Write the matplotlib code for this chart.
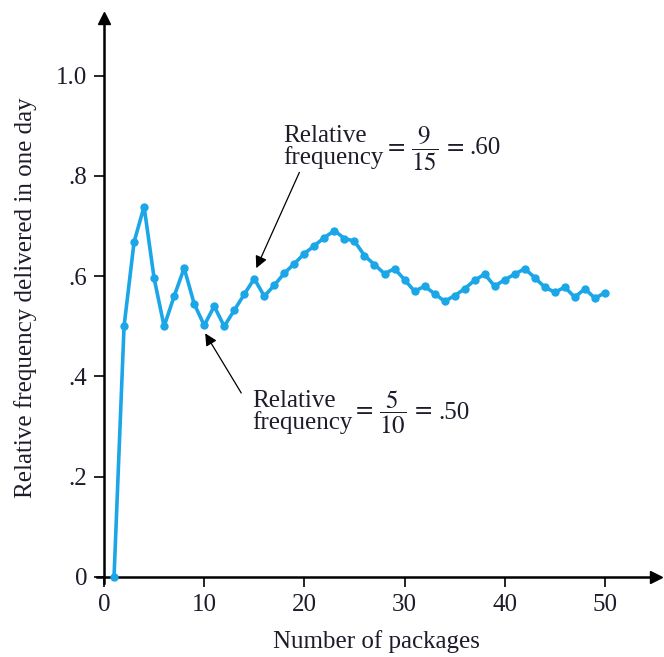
import matplotlib
matplotlib.use('Agg')
import matplotlib.pyplot as plt

plt.rcParams['font.family'] = ['Liberation Serif', 'DejaVu Serif']
plt.rcParams['mathtext.fontset'] = 'stix'

# number of packages observed and running relative frequency delivered in one day
packages = list(range(1, 51))
rel_freq = [0.00, 0.50, 0.668, 0.739, 0.596, 0.50, 0.56, 0.616, 0.545, 0.502,
            0.54, 0.50, 0.532, 0.564, 0.595, 0.56, 0.582, 0.606, 0.625, 0.645,
            0.661, 0.677, 0.691, 0.675, 0.670, 0.641, 0.623, 0.605, 0.615, 0.593,
            0.570, 0.580, 0.565, 0.550, 0.561, 0.575, 0.592, 0.604, 0.580, 0.593,
            0.604, 0.615, 0.597, 0.578, 0.568, 0.578, 0.558, 0.575, 0.556, 0.567]

x_ticks = [0, 10, 20, 30, 40, 50]
y_ticks = [0, 0.2, 0.4, 0.6, 0.8, 1.0]
y_tick_labels = ['0', '.2', '.4', '.6', '.8', '1.0']

line_color = '#1BA6E8'
text_color = '#1c1c2a'

fig = plt.figure(figsize=(6.64, 6.57), dpi=100)
W, H = 664, 657
left, right, top, bottom = 97, 656, 18, 583
ax = fig.add_axes([left / W, 1 - bottom / H, (right - left) / W, (bottom - top) / H])

ax.plot(packages, rel_freq, color=line_color, lw=2.6, marker='o', ms=5,
        solid_joinstyle='round', clip_on=False, zorder=3)

ax.set_xlim(-0.7, 55.1)
ax.set_ylim(-0.012, 1.115)

ax.spines['top'].set_visible(False)
ax.spines['right'].set_visible(False)
ax.spines['left'].set_position(('data', 0))
ax.spines['bottom'].set_position(('data', 0))
ax.spines['left'].set_linewidth(1.8)
ax.spines['bottom'].set_linewidth(1.8)

# arrow heads at the axis ends
ax.plot(1, 0, '>k', ms=9, transform=ax.get_yaxis_transform(), clip_on=False)
ax.plot(0, 1, '^k', ms=9, transform=ax.get_xaxis_transform(), clip_on=False)

ax.set_xticks(x_ticks)
ax.set_yticks(y_ticks)
ax.set_yticklabels(y_tick_labels)
ax.tick_params(axis='both', direction='out', length=7, width=1.2, labelsize=18,
               colors='black', labelcolor=text_color, pad=5)

ax.set_xlabel('Number of packages', fontsize=18, labelpad=10, color=text_color)
ax.set_ylabel('Relative frequency delivered in one day', fontsize=18, color=text_color)
ax.yaxis.set_label_coords(-0.108, 0.505, transform=ax.transAxes)


def note(x, y, num, den, value, tail, tip):
    ax.text(x, y, 'Relative\nfrequency', fontsize=18, ha='left', va='center',
            linespacing=0.95, color=text_color)
    eq = ax.text(x + 10.0, y - 0.002, r'$=\,\dfrac{%s}{%s}\,=$' % (num, den),
                 fontsize=18, ha='left', va='center', color=text_color)
    ax.annotate(value, xy=(1, 0.5), xycoords=eq, xytext=(4, 0),
                textcoords='offset points', fontsize=18, ha='left', va='center',
                color=text_color)
    ax.annotate('', xy=tip, xytext=tail,
                arrowprops=dict(arrowstyle='-|>', color='black', lw=0.9,
                                mutation_scale=18, shrinkA=0, shrinkB=0))


note(17.9, 0.857, '9', '15', '.60', (19.5, 0.807), (15.2, 0.616))
note(14.8, 0.330, '5', '10', '.50', (13.7, 0.367), (10.1, 0.486))

plt.savefig('out.png', dpi=100)
